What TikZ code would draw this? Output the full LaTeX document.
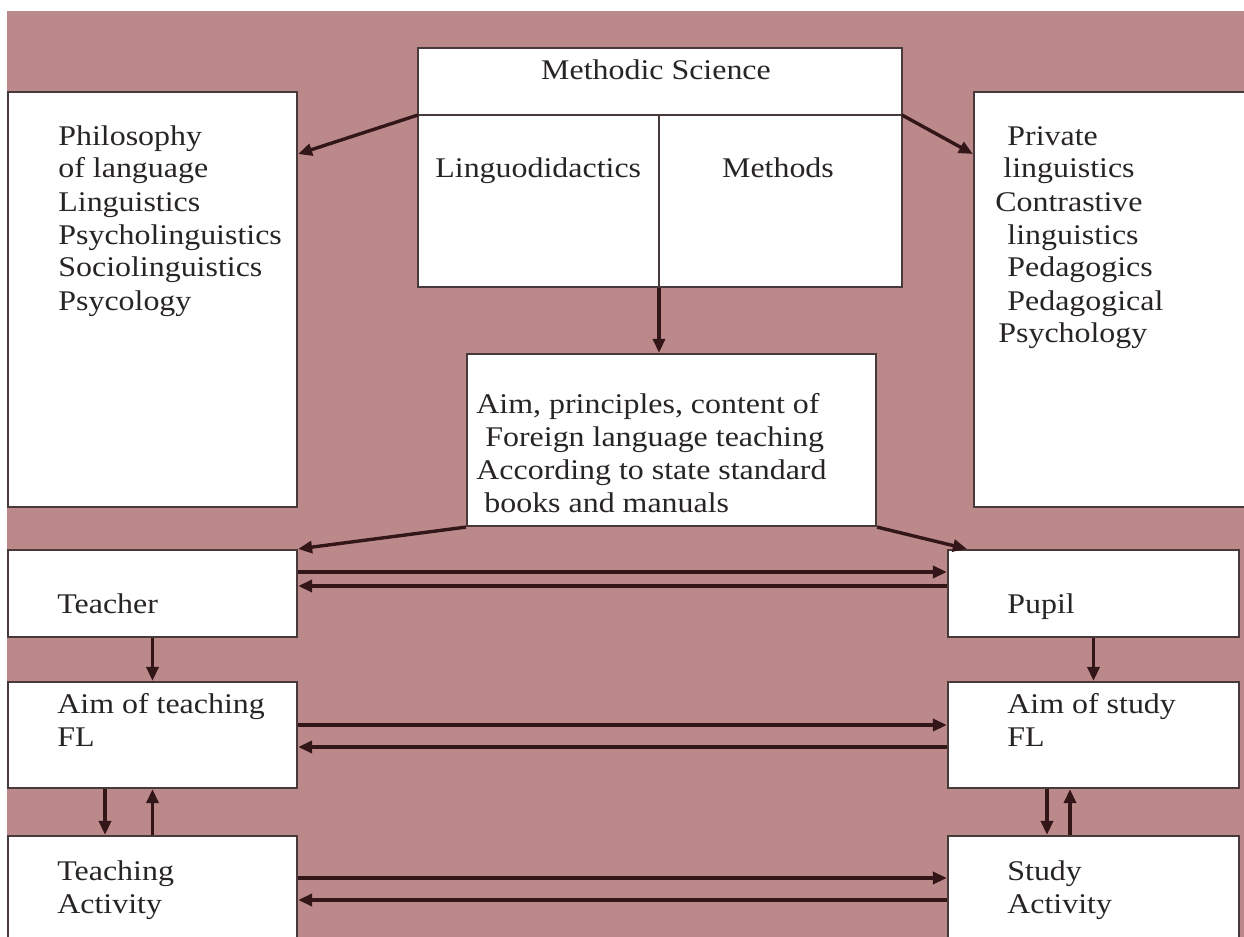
\documentclass[tikz,border=0pt]{standalone}
\usepackage{fontspec}
\setmainfont{Liberation Serif}[FakeStretch=1.12]
\usetikzlibrary{arrows.meta,calc}
\definecolor{bgpink}{RGB}{188,137,139}
\definecolor{edge}{RGB}{72,58,58}
\definecolor{ink}{RGB}{50,22,24}
\definecolor{txt}{RGB}{40,36,36}
\newcommand\txtlines[1]{\begin{tabular}[t]{@{}l@{}}#1\end{tabular}}

\begin{document}
\begin{tikzpicture}[x=0.5pt, y=-0.5pt,
  box/.style={draw=edge, fill=white, line width=1.1pt, inner sep=0pt},
  divline/.style={draw=edge, line width=1.1pt},
  lbl/.style={anchor=base west, inner sep=0pt, text=txt,
              font=\fontsize{14.25}{16.5}\selectfont},
  arr/.style={draw=ink, line width=1.7pt, -{Triangle[length=7pt,width=6pt]}}]

% canvas
\useasboundingbox (0,0) rectangle (1244,937);
\clip (0,0) rectangle (1244,937);
\fill[white] (0,0) rectangle (1244,937);
\fill[bgpink] (7,11) rectangle (1244,937);

% boxes
\node[box, minimum width=242pt,   minimum height=119.5pt] (msci)     at (660,167.5)   {};
\node[box, minimum width=144.5pt, minimum height=207.5pt] (leftbox)  at (152.5,299.5) {};
\node[box, minimum width=143pt,   minimum height=207.5pt] (rightbox) at (1117,299.5)  {};
\node[box, minimum width=204.5pt, minimum height=86pt]    (mid)      at (671.5,440)   {};
\node[box, minimum width=144.5pt, minimum height=43.5pt]  (teacher)  at (152.5,593.5) {};
\node[box, minimum width=144.5pt, minimum height=53pt]    (aimT)     at (152.5,735)   {};
\node[box, minimum width=144.5pt, minimum height=62pt]    (actT)     at (152.5,898)   {};
\node[box, minimum width=145.5pt, minimum height=43.5pt]  (pupil)    at (1093.5,593.5){};
\node[box, minimum width=145.5pt, minimum height=53pt]    (aimS)     at (1093.5,735)  {};
\node[box, minimum width=145.5pt, minimum height=62pt]    (actS)     at (1093.5,898)  {};

% dividers inside the Methodic Science box
\coordinate (divL) at (418,115);
\coordinate (divR) at (902,115);
\coordinate (divM) at (659,115);
\draw[divline] (divL) -- (divR);
\draw[divline] (divM) -- (divM |- msci.south);

% helper rows and columns for parallel arrows
\coordinate (tipL) at (298,154);
\coordinate (tipR) at (973,154);
\coordinate (r1) at (0,572);
\coordinate (r2) at (0,586);
\coordinate (r3) at (0,725);
\coordinate (r4) at (0,747);
\coordinate (r5) at (0,878);
\coordinate (r6) at (0,900);
\coordinate (c1) at (105,0);
\coordinate (c2) at (1047,0);
\coordinate (c3) at (1070,0);

% arrows
\draw[arr] (divL) -- (leftbox.east |- tipL);
\draw[arr] (divR) -- (rightbox.west |- tipR);
\draw[arr] (divM |- msci.south) -- (divM |- mid.north);
\draw[arr] (mid.south west) -- (teacher.north east);
\draw[arr] (mid.south east) -- ($(pupil.north west)+(20,0)$);

\draw[arr] (teacher.east |- r1) -- (pupil.west |- r1);
\draw[arr] (pupil.west |- r2) -- (teacher.east |- r2);
\draw[arr] (aimT.east |- r3) -- (aimS.west |- r3);
\draw[arr] (aimS.west |- r4) -- (aimT.east |- r4);
\draw[arr] (actT.east |- r5) -- (actS.west |- r5);
\draw[arr] (actS.west |- r6) -- (actT.east |- r6);

\draw[arr] (teacher.south) -- (aimT.north);
\draw[arr] (aimT.south -| c1) -- (actT.north -| c1);
\draw[arr] (actT.north) -- (aimT.south);
\draw[arr] (pupil.south) -- (aimS.north);
\draw[arr] (aimS.south -| c2) -- (actS.north -| c2);
\draw[arr] (actS.north -| c3) -- (aimS.south -| c3);

% labels
\node[lbl, anchor=base] (tMS)   at (656,79)  {Methodic Science};
\node[lbl]              (tLing) at (435,177) {Linguodidactics};
\node[lbl, anchor=base] (tMeth) at (778,177) {Methods};
\node[lbl] (tLeft) at (58,145) {\txtlines{Philosophy\\of language\\Linguistics\\Psycholinguistics\\Sociolinguistics\\Psycology}};
\node[lbl] (tRight) at (995,145) {\txtlines{\hspace{6pt}Private\\\hspace{4pt}linguistics\\Contrastive\\\hspace{6pt}linguistics\\\hspace{6pt}Pedagogics\\\hspace{6pt}Pedagogical\\\hspace{1.5pt}Psychology}};
\node[lbl] (tMid) at (476,413) {\txtlines{Aim, principles, content of\\\hspace{4.5pt}Foreign language teaching\\According to state standard\\\hspace{4pt}books and manuals}};
\node[lbl] (tTeacher) at (57,613)   {Teacher};
\node[lbl] (tAimT)    at (57,713)   {\txtlines{Aim of teaching\\FL}};
\node[lbl] (tActT)    at (57,880)   {\txtlines{Teaching\\Activity}};
\node[lbl] (tPupil)   at (1007,613) {Pupil};
\node[lbl] (tAimS)    at (1007,713) {\txtlines{Aim of study\\FL}};
\node[lbl] (tActS)    at (1007,880) {\txtlines{Study\\Activity}};
\end{tikzpicture}
\end{document}
